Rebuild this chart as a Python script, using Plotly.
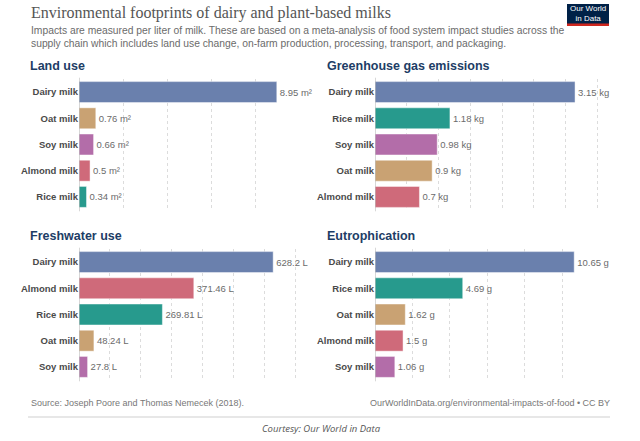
import plotly.graph_objects as go

W, H = 640, 441

# ---- data ----
land_cats = ["Dairy milk", "Oat milk", "Soy milk", "Almond milk", "Rice milk"]
land_vals = [8.95, 0.76, 0.66, 0.5, 0.34]

ghg_cats = ["Dairy milk", "Rice milk", "Soy milk", "Oat milk", "Almond milk"]
ghg_vals = [3.15, 1.18, 0.98, 0.9, 0.7]

water_cats = ["Dairy milk", "Almond milk", "Rice milk", "Oat milk", "Soy milk"]
water_vals = [628.2, 371.46, 269.81, 48.24, 27.8]

eutro_cats = ["Dairy milk", "Rice milk", "Oat milk", "Almond milk", "Soy milk"]
eutro_vals = [10.65, 4.69, 1.62, 1.5, 1.06]

colors = {
    "Dairy milk": "#6a80ad",
    "Oat milk": "#c9a273",
    "Soy milk": "#b36da9",
    "Almond milk": "#cf6a7a",
    "Rice milk": "#279a8d",
}

panels = [
    (land_cats, land_vals, "m²", "Land use", 1, [0, 10.0], 2),
    (ghg_cats, ghg_vals, "kg", "Greenhouse gas emissions", 2, [0, 3.543], 0.5),
    (water_cats, water_vals, "L", "Freshwater use", 3, [0, 715], 100),
    (eutro_cats, eutro_vals, "g", "Eutrophication", 4, [0, 12.03], 2),
]

def px(x):
    return x / W

def py(y):
    return 1 - y / H

xdomains = {1: [px(79), px(300)], 2: [px(375), px(600)],
            3: [px(79), px(300)], 4: [px(375), px(600)]}
ydomains = {1: [py(210), py(79)], 2: [py(210), py(79)],
            3: [py(380), py(249)], 4: [py(380), py(249)]}
title_pos = {1: (28, 66), 2: (325, 66), 3: (28, 236), 4: (325, 236)}

FONT = "Liberation Sans, Arial, sans-serif"

fig = go.Figure()
layout = dict(
    width=W, height=H,
    margin=dict(l=0, r=0, t=0, b=0),
    paper_bgcolor="white", plot_bgcolor="white",
    showlegend=False,
    font=dict(family=FONT, color="#555"),
    bargap=0.2,
)

shapes = []
annotations = []

for cats, vals, unit, title, i, xr, dt in panels:
    sfx = "" if i == 1 else str(i)
    fig.add_trace(go.Bar(
        x=vals, y=cats, orientation="h",
        xaxis="x" + sfx, yaxis="y" + sfx,
        marker=dict(color=[colors[c] for c in cats],
                    line=dict(color="rgba(255,255,255,0.45)", width=1)),
        text=[f"{v:g} {unit}" for v in vals],
        textposition="outside",
        textfont=dict(size=9.5, color="#6b6b6b", family=FONT),
        cliponaxis=False,
        hoverinfo="skip",
    ))
    layout["xaxis" + sfx] = dict(
        domain=xdomains[i], range=xr, anchor="y" + sfx,
        showticklabels=False, ticks="",
        showgrid=True, gridcolor="#dcdcdc", griddash="dot", gridwidth=1,
        tick0=0, dtick=dt, zeroline=False, showline=False,
    )
    layout["yaxis" + sfx] = dict(
        domain=ydomains[i], anchor="x" + sfx,
        categoryorder="array", categoryarray=cats,
        autorange="reversed", showgrid=False, zeroline=False,
        showline=False, ticks="",
        tickfont=dict(size=9.5, color="#4a4a4a", family=FONT, weight="bold"),
    )
    shapes.append(dict(type="line", xref="x" + sfx, yref="y" + sfx + " domain",
                       x0=0, x1=0, y0=-0.01, y1=1.01,
                       line=dict(color="#b0b0b0", width=1), layer="above"))
    tx, ty = title_pos[i]
    annotations.append(dict(
        text=f"<b>{title}</b>", xref="paper", yref="paper",
        x=px(tx), y=py(ty), xanchor="left", yanchor="middle",
        showarrow=False, font=dict(size=12.5, color="#1d3d66", family=FONT),
    ))

# header
annotations.append(dict(
    text="Environmental footprints of dairy and plant-based milks",
    xref="paper", yref="paper", x=px(29), y=py(13), xanchor="left", yanchor="middle",
    showarrow=False, font=dict(size=16, color="#555", family="Liberation Serif, serif"),
))
annotations.append(dict(
    text="Impacts are measured per liter of milk. These are based on a meta-analysis of food system impact studies across the<br>"
         "supply chain which includes land use change, on-farm production, processing, transport, and packaging.",
    xref="paper", yref="paper", x=px(29), y=py(37), xanchor="left", yanchor="middle",
    align="left", showarrow=False,
    font=dict(size=10.3, color="#6b6b6b", family=FONT),
))

# logo
shapes.append(dict(type="rect", xref="paper", yref="paper",
                   x0=px(567), x1=px(609), y0=py(26), y1=py(4),
                   fillcolor="#002147", line=dict(width=0)))
shapes.append(dict(type="rect", xref="paper", yref="paper",
                   x0=px(567), x1=px(609), y0=py(26), y1=py(23.5),
                   fillcolor="#ce261e", line=dict(width=0)))
annotations.append(dict(
    text="Our World<br>in Data", xref="paper", yref="paper",
    x=px(588), y=py(13.5), xanchor="center", yanchor="middle",
    showarrow=False, align="center",
    font=dict(size=8, color="white", family=FONT),
))

# footer
annotations.append(dict(
    text="Source: Joseph Poore and Thomas Nemecek (2018).",
    xref="paper", yref="paper", x=px(29), y=py(403), xanchor="left", yanchor="middle",
    showarrow=False, font=dict(size=9, color="#777", family=FONT),
))
annotations.append(dict(
    text="OurWorldInData.org/environmental-impacts-of-food • CC BY",
    xref="paper", yref="paper", x=px(612), y=py(403), xanchor="right", yanchor="middle",
    showarrow=False, font=dict(size=9, color="#777", family=FONT),
))
shapes.append(dict(type="line", xref="paper", yref="paper",
                   x0=px(28), x1=px(610), y0=py(417), y1=py(417),
                   line=dict(color="#cfcfcf", width=1)))
annotations.append(dict(
    text="<i>Courtesy: Our World in Data</i>",
    xref="paper", yref="paper", x=px(321), y=py(428), xanchor="center", yanchor="middle",
    showarrow=False, font=dict(size=9.5, color="#555", family="Open Sans, sans-serif"),
))

layout["shapes"] = shapes
layout["annotations"] = annotations
fig.update_layout(**layout)
fig.write_html("out.html",
               config={"displayModeBar": False},
               post_script="document.body.style.margin='0';document.body.style.overflow='hidden';")
